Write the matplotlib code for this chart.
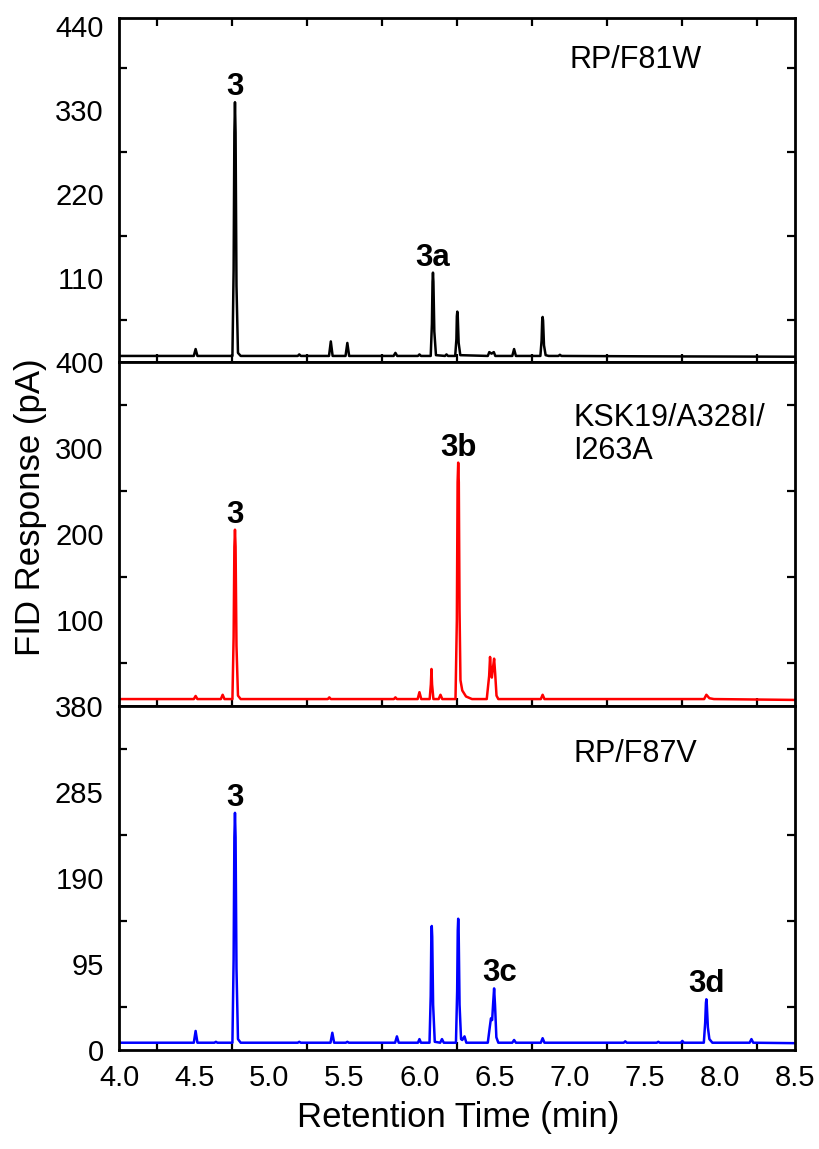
import matplotlib
matplotlib.use('Agg')

import matplotlib.pyplot as plt
import numpy as np

# ---------------- DATA ----------------
# RP/F81W (black)
time_f81w = [4.00, 4.498, 4.51, 4.522,
             4.755, 4.763, 4.768, 4.772, 4.776, 4.782, 4.792, 4.81,
             5.19, 5.20, 5.21,
             5.398, 5.41, 5.422,
             5.508, 5.52, 5.532,
             5.828, 5.84, 5.852,
             5.99, 6.00, 6.01,
             6.075, 6.083, 6.087, 6.09, 6.093, 6.099, 6.11,
             6.17, 6.18, 6.19,
             6.238, 6.246, 6.249, 6.252, 6.255, 6.261, 6.272,
             6.455, 6.465, 6.48, 6.495, 6.505,
             6.618, 6.63, 6.642,
             6.805, 6.813, 6.817, 6.82, 6.823, 6.829, 6.84, 6.86,
             6.925, 6.935, 6.945,
             7.50, 8.50]
signal_f81w = [8, 8, 17, 8,
               8, 120, 300, 340, 300, 100, 12, 8,
               8, 10, 8,
               8, 27, 8,
               8, 25, 8,
               8, 12, 8,
               8, 10, 8,
               8, 50, 105, 117, 105, 40, 9,
               8, 10, 8,
               8, 30, 60, 66, 60, 25, 9,
               8, 13, 11, 13, 8,
               8, 17, 8,
               8, 28, 54, 59, 54, 22, 9, 8,
               8, 9.5, 8,
               7.5, 7]

# KSK19/A328I/I263A (red)
time_ksk = [4.00, 4.498, 4.51, 4.522,
            4.678, 4.69, 4.702,
            4.755, 4.763, 4.768, 4.772, 4.776, 4.782, 4.792, 4.81,
            5.39, 5.40, 5.41,
            5.83, 5.84, 5.85,
            5.988, 6.00, 6.012,
            6.068, 6.076, 6.08, 6.084, 6.093,
            6.128, 6.14, 6.152,
            6.24, 6.249, 6.254, 6.258, 6.262, 6.267, 6.273, 6.285, 6.31, 6.35,
            6.448, 6.464, 6.470, 6.476, 6.482, 6.490, 6.497, 6.504, 6.513, 6.525,
            6.808, 6.82, 6.832,
            7.895, 7.91, 7.93, 7.96,
            8.50]
signal_ksk = [8, 8, 11.6, 8,
              8, 13, 8,
              8, 80, 185, 205, 185, 70, 12, 8,
              8, 10, 8,
              8, 10, 8,
              8, 16, 8,
              8, 25, 43, 25, 8,
              8, 13, 8,
              8, 100, 260, 283, 260, 110, 30, 18, 11, 8,
              8, 35, 57, 40, 33, 45, 55, 38, 12, 8,
              8, 13, 8,
              8, 13, 9, 8,
              7]

# RP/F87V (blue)
time_f87v = [4.00, 4.498, 4.51, 4.522,
             4.635, 4.645, 4.655,
             4.755, 4.763, 4.768, 4.772, 4.776, 4.782, 4.792, 4.81,
             5.19, 5.20, 5.21,
             5.408, 5.42, 5.432,
             5.51, 5.52, 5.53,
             5.838, 5.85, 5.862,
             5.99, 6.00, 6.01,
             6.067, 6.075, 6.079, 6.082, 6.085, 6.091, 6.102,
             6.138, 6.15, 6.162,
             6.243, 6.251, 6.255, 6.258, 6.261, 6.267, 6.277, 6.285, 6.30, 6.312,
             6.455, 6.468, 6.476, 6.484, 6.490, 6.497, 6.503, 6.512, 6.525,
             6.618, 6.63, 6.642,
             6.808, 6.82, 6.832,
             7.36, 7.37, 7.38,
             7.58, 7.59, 7.60,
             7.74, 7.75, 7.76,
             7.893, 7.902, 7.907, 7.91, 7.913, 7.92, 7.93, 7.95,
             8.198, 8.21, 8.222,
             8.50]
signal_f87v = [8, 8, 21, 8,
               8, 9, 8,
               8, 100, 235, 262, 235, 90, 12, 8,
               8, 9, 8,
               8, 19, 8,
               8, 9, 8,
               8, 15, 8,
               8, 12, 8,
               8, 60, 125, 137, 125, 50, 9,
               8, 12, 8,
               8, 65, 132, 145, 132, 50, 12, 11, 15, 8,
               8, 25, 35, 33, 50, 68, 50, 14, 8,
               8, 11, 8,
               8, 13, 8,
               8, 9.5, 8,
               8, 9, 8,
               8, 10, 8,
               8, 30, 52, 56, 50, 25, 12, 8,
               8, 12, 8,
               7.5]

# peak labels: (text, retention time)
labels_f81w = [("3", 4.772), ("3a", 6.09)]
labels_ksk = [("3", 4.772), ("3b", 6.258)]
labels_f87v = [("3", 4.772), ("3c", 6.497), ("3d", 7.91)]

panel_names = ["RP/F81W", "KSK19/A328I/\nI263A", "RP/F87V"]
panel_colors = ["black", "#ff0000", "#0000ff"]

y_major = [[110, 220, 330, 440], [100, 200, 300, 400], [0, 95, 190, 285, 380]]
y_minor = [[55, 165, 275, 385], [50, 150, 250, 350], [47.5, 142.5, 237.5, 332.5]]
y_limits = [(0, 450), (0, 400), (0, 380)]

x_major = [4.0, 4.5, 5.0, 5.5, 6.0, 6.5, 7.0, 7.5, 8.0, 8.5]
x_minor = [4.25, 4.75, 5.25, 5.75, 6.25, 6.75, 7.25, 7.75, 8.25]

# ---------------- STYLE ----------------
plt.rcParams['font.family'] = ['Liberation Sans', 'DejaVu Sans']

fig = plt.figure(figsize=(8.19, 11.49), dpi=100, facecolor='white')

left, width = 0.1453, 0.8254
bottoms = [0.6849, 0.3856, 0.0862]
height = 0.2993

traces = [(time_f81w, signal_f81w, labels_f81w),
          (time_ksk, signal_ksk, labels_ksk),
          (time_f87v, signal_f87v, labels_f87v)]

text_pos = [(0.667, 0.877), (0.672, 0.79), (0.672, 0.861)]

for i in range(3):
    ax = fig.add_axes([left, bottoms[i], width, height])
    t, s, labs = traces[i]

    ax.plot(t, s, color=panel_colors[i], linewidth=1.8, solid_joinstyle='round')

    # peak labels sit just above the highest point near each label time
    t_arr = np.array(t)
    s_arr = np.array(s)
    for txt, tl in labs:
        near = np.abs(t_arr - tl) < 0.012
        top = s_arr[near].max()
        dx = 4 if txt == "3c" else 0
        ax.annotate(txt, xy=(tl, top), xytext=(dx, 5), textcoords='offset points',
                    ha='center', va='baseline', fontsize=22.5, fontweight='bold')

    ax.text(text_pos[i][0], text_pos[i][1], panel_names[i], transform=ax.transAxes,
            ha='left', va='center', fontsize=22, linespacing=1.13)

    # ---------------- AXES ----------------
    ax.set_xlim(4.0, 8.5)
    ax.set_ylim(*y_limits[i])

    ax.set_yticks(y_major[i])
    ax.set_yticks(y_minor[i], minor=True)
    ax.set_xticks(x_major)
    ax.set_xticks(x_minor, minor=True)

    ax.tick_params(axis='both', which='major', length=0, labelsize=21)
    ax.tick_params(axis='y', which='major', pad=11)
    ax.tick_params(axis='x', which='major', pad=10)
    ax.tick_params(axis='y', which='minor', direction='in', length=6, width=1.6,
                   left=True, right=True)
    ax.tick_params(axis='x', which='minor', direction='in', length=6, width=1.6,
                   bottom=True, top=(i == 0))

    if i < 2:
        ax.tick_params(axis='x', which='major', labelbottom=False)

    for sp in ax.spines.values():
        sp.set_linewidth(2.0)

# ---------------- LABELS ----------------
fig.text(0.037, 0.559, "FID Response (pA)", rotation=90, ha='center', va='center',
         fontsize=25)
fig.text(0.559, 0.027, "Retention Time (min)", ha='center', va='center', fontsize=25)

plt.savefig("out.png", dpi=100, facecolor='white')
plt.close()
